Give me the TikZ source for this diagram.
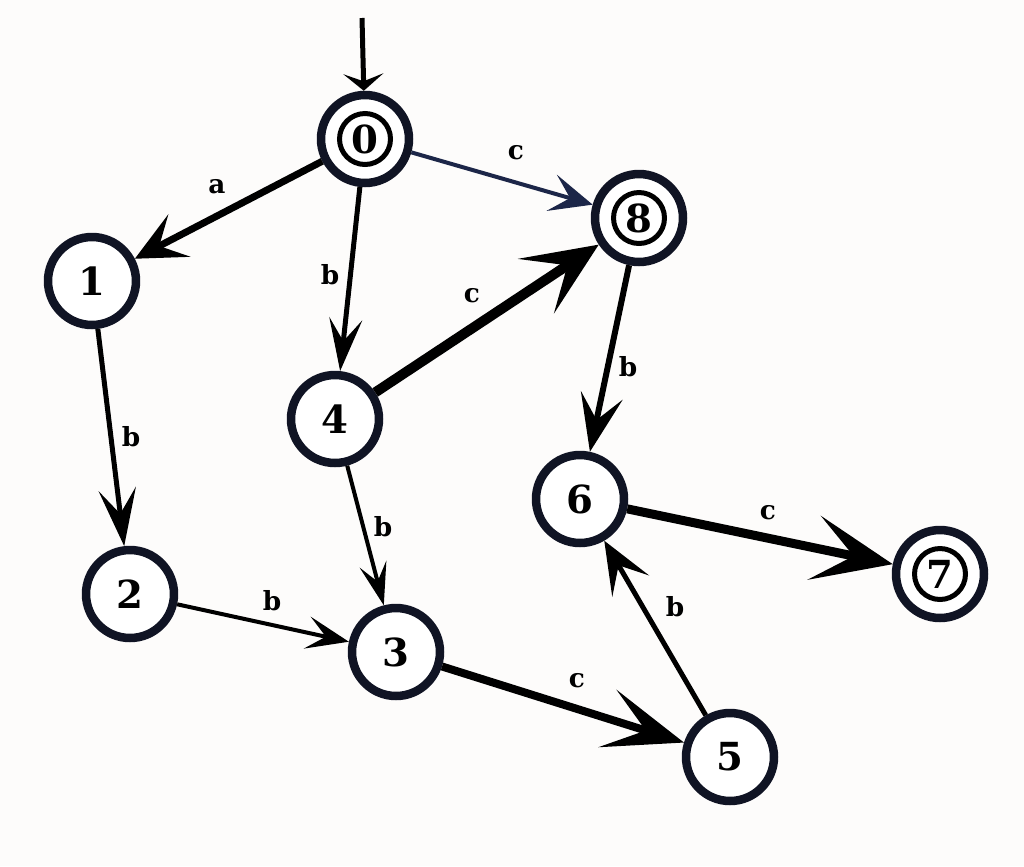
\documentclass[tikz,border=0pt]{standalone}
\usepackage{fontspec}
\setmainfont{DejaVu Serif}
\usetikzlibrary{arrows.meta}
\definecolor{ring}{RGB}{16,20,36}
\definecolor{navy}{RGB}{28,38,72}
\definecolor{bg}{RGB}{253,252,251}
\begin{document}
\begin{tikzpicture}[x=0.02cm,y=-0.02cm,
  state/.style={circle,draw=ring,line width=1.7mm,minimum size=1.76cm,inner sep=0pt,fill=white,
    font=\bfseries\fontsize{22}{22}\selectfont},
  innerring/.style={draw=black,line width=1mm},
  lbl/.style={font=\bfseries\fontsize{15}{15}\selectfont,inner sep=0pt},
  tr/.style n args={4}{draw=black,line width=#1cm,-{Stealth[length=#2cm,width=#3cm,inset=#4cm]}}
]
\fill[bg] (0,0) rectangle (1024,866);
\useasboundingbox (0,0) rectangle (1024,866);

\node[state] (n0) at (365,139) {0};
\node[state] (n8) at (639,218) {8};
\node[state] (n1) at (92,281) {1};
\node[state] (n4) at (335,419) {4};
\node[state] (n6) at (580,499) {6};
\node[state] (n7) at (940,574) {7};
\node[state] (n2) at (130,594) {2};
\node[state] (n3) at (396,652) {3};
\node[state] (n5) at (730,757) {5};

\draw[innerring] (n0.center) circle[radius=0.51cm];
\draw[innerring] (n8.center) circle[radius=0.51cm];
\draw[innerring] (n7.center) circle[radius=0.51cm];

\coordinate (start) at (362,18);

\draw[tr={0.1}{0.34}{0.8}{0.15}] (start) -- (n0);
\draw[tr={0.14}{1.0}{0.95}{0.45}] (n0) -- (n1);
\draw[tr={0.1}{1.05}{0.66}{0.45}] (n0) -- (n4);
\draw[tr={0.08}{0.85}{0.75}{0.38},draw=navy] (n0) -- (n8);
\draw[tr={0.2}{1.5}{1.3}{0.75}] (n4) -- (n8);
\draw[tr={0.1}{1.15}{0.75}{0.5}] (n1) -- (n2);
\draw[tr={0.12}{1.15}{0.85}{0.5}] (n8) -- (n6);
\draw[tr={0.08}{0.85}{0.55}{0.36}] (n4) -- (n3);
\draw[tr={0.08}{0.85}{0.65}{0.38}] (n2) -- (n3);
\draw[tr={0.16}{1.6}{1.2}{0.8}] (n3) -- (n5);
\draw[tr={0.1}{1.05}{0.85}{0.48}] (n5) -- (n6);
\draw[tr={0.18}{1.6}{1.3}{0.8}] (n6) -- (n7);

\node[lbl] (la) at (217,187) {a};
\node[lbl] (lc08) at (516,153) {c};
\node[lbl] (lb04) at (330,275) {b};
\node[lbl] (lc48) at (472,296) {c};
\node[lbl] (lb12) at (131,437) {b};
\node[lbl] (lb86) at (628,367) {b};
\node[lbl] (lb43) at (383,527) {b};
\node[lbl] (lb23) at (272,601) {b};
\node[lbl] (lc35) at (577,681) {c};
\node[lbl] (lb56) at (675,607) {b};
\node[lbl] (lc67) at (768,513) {c};
\end{tikzpicture}
\end{document}
